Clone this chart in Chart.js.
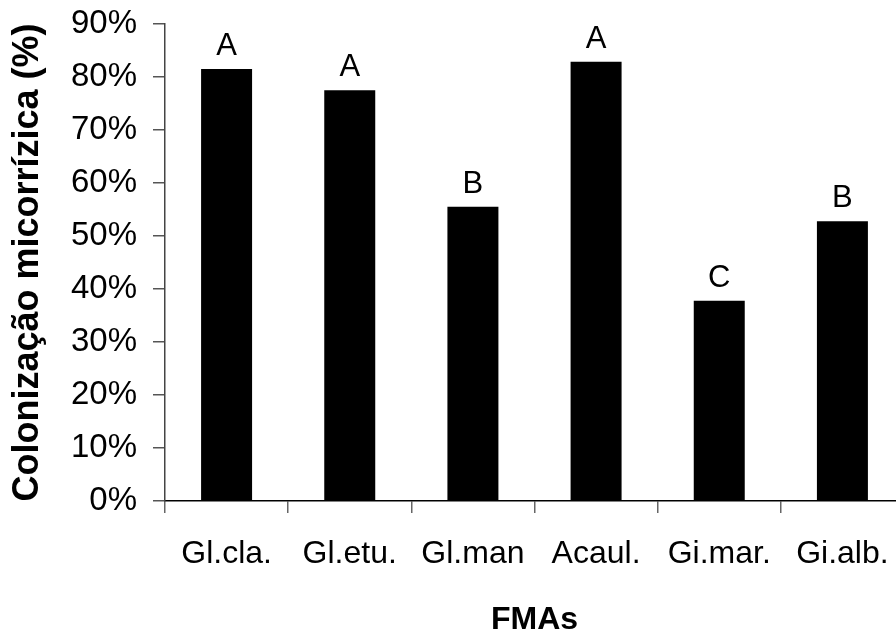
<!DOCTYPE html>
<html>
<head>
<meta charset="utf-8">
<script src="https://cdn.jsdelivr.net/npm/chart.js@4/dist/chart.umd.min.js"></script>
<style>
  html, body { margin: 0; padding: 0; background: #fff; overflow: hidden; }
  #wrap { width: 896px; height: 633px; overflow: hidden; }
  canvas { display: block; }
</style>
</head>
<body>
<div id="wrap"><canvas id="chart" width="912" height="633"></canvas></div>
<script>
// Mycorrhizal colonization by AMF isolate
const categories = ['Gl.cla.', 'Gl.etu.', 'Gl.man', 'Acaul.', 'Gi.mar.', 'Gi.alb.'];
const colonization = [0.815, 0.775, 0.555, 0.829, 0.378, 0.528];
const groupLetters = ['A', 'A', 'B', 'A', 'C', 'B'];
const yTickValues = [0, 0.1, 0.2, 0.3, 0.4, 0.5, 0.6, 0.7, 0.8, 0.9];

const FONT = "'Liberation Sans', Arial, Helvetica, sans-serif";

// Letters of the mean-comparison test, written above each bar
const letterPlugin = {
  id: 'groupLetters',
  afterDatasetsDraw(chart) {
    const ctx = chart.ctx;
    const meta = chart.getDatasetMeta(0);
    ctx.save();
    ctx.font = '31px ' + FONT;
    ctx.fillStyle = '#000';
    ctx.textAlign = 'center';
    ctx.textBaseline = 'alphabetic';
    meta.data.forEach((bar, i) => {
      ctx.fillText(groupLetters[i], bar.x, bar.y - 14);
    });
    ctx.restore();
  }
};

new Chart(document.getElementById('chart'), {
  type: 'bar',
  data: {
    labels: categories,
    datasets: [{
      data: colonization,
      backgroundColor: '#000',
      borderWidth: 0,
      categoryPercentage: 1,
      barPercentage: 0.414
    }]
  },
  options: {
    responsive: false,
    animation: false,
    events: [],
    layout: { padding: { top: 24, right: 8, left: 0, bottom: 0 } },
    plugins: {
      legend: { display: false },
      tooltip: { enabled: false }
    },
    scales: {
      x: {
        offset: true,
        grid: {
          offset: true,
          drawOnChartArea: false,
          drawTicks: true,
          tickLength: 12,
          color: '#666',
          lineWidth: 1.5
        },
        border: { display: true, color: '#000', width: 1.5 },
        ticks: {
          color: '#000',
          font: { family: FONT, size: 32 },
          padding: 22,
          maxRotation: 0,
          autoSkip: false
        },
        title: {
          display: true,
          text: 'FMAs',
          color: '#000',
          font: { family: FONT, size: 32, weight: 'bold', lineHeight: 0.8 },
          padding: { top: 0, bottom: 0 }
        },
        afterFit(scale) {
          scale.height = 132;
          scale.paddingLeft = 0;
          scale.paddingRight = 0;
        }
      },
      y: {
        min: 0,
        max: 0.9,
        afterBuildTicks(scale) {
          scale.ticks = yTickValues.map(v => ({ value: v }));
        },
        grid: {
          drawOnChartArea: false,
          drawTicks: true,
          tickLength: 12,
          color: '#555',
          lineWidth: 1.5
        },
        border: { display: true, color: '#444', width: 1.5 },
        ticks: {
          color: '#000',
          font: { family: FONT, size: 33 },
          padding: 16,
          callback: v => Math.round(v * 100) + '%'
        },
        title: {
          display: true,
          text: 'Colonização micorrízica (%)',
          color: '#000',
          font: { family: FONT, size: 36, weight: 'bold', lineHeight: 1 },
          padding: { top: 10, bottom: 0 }
        },
        afterFit(scale) {
          scale.width = 165;
          scale.paddingTop = 0;
          scale.paddingBottom = 0;
        }
      }
    }
  },
  plugins: [letterPlugin]
});
</script>
</body>
</html>
